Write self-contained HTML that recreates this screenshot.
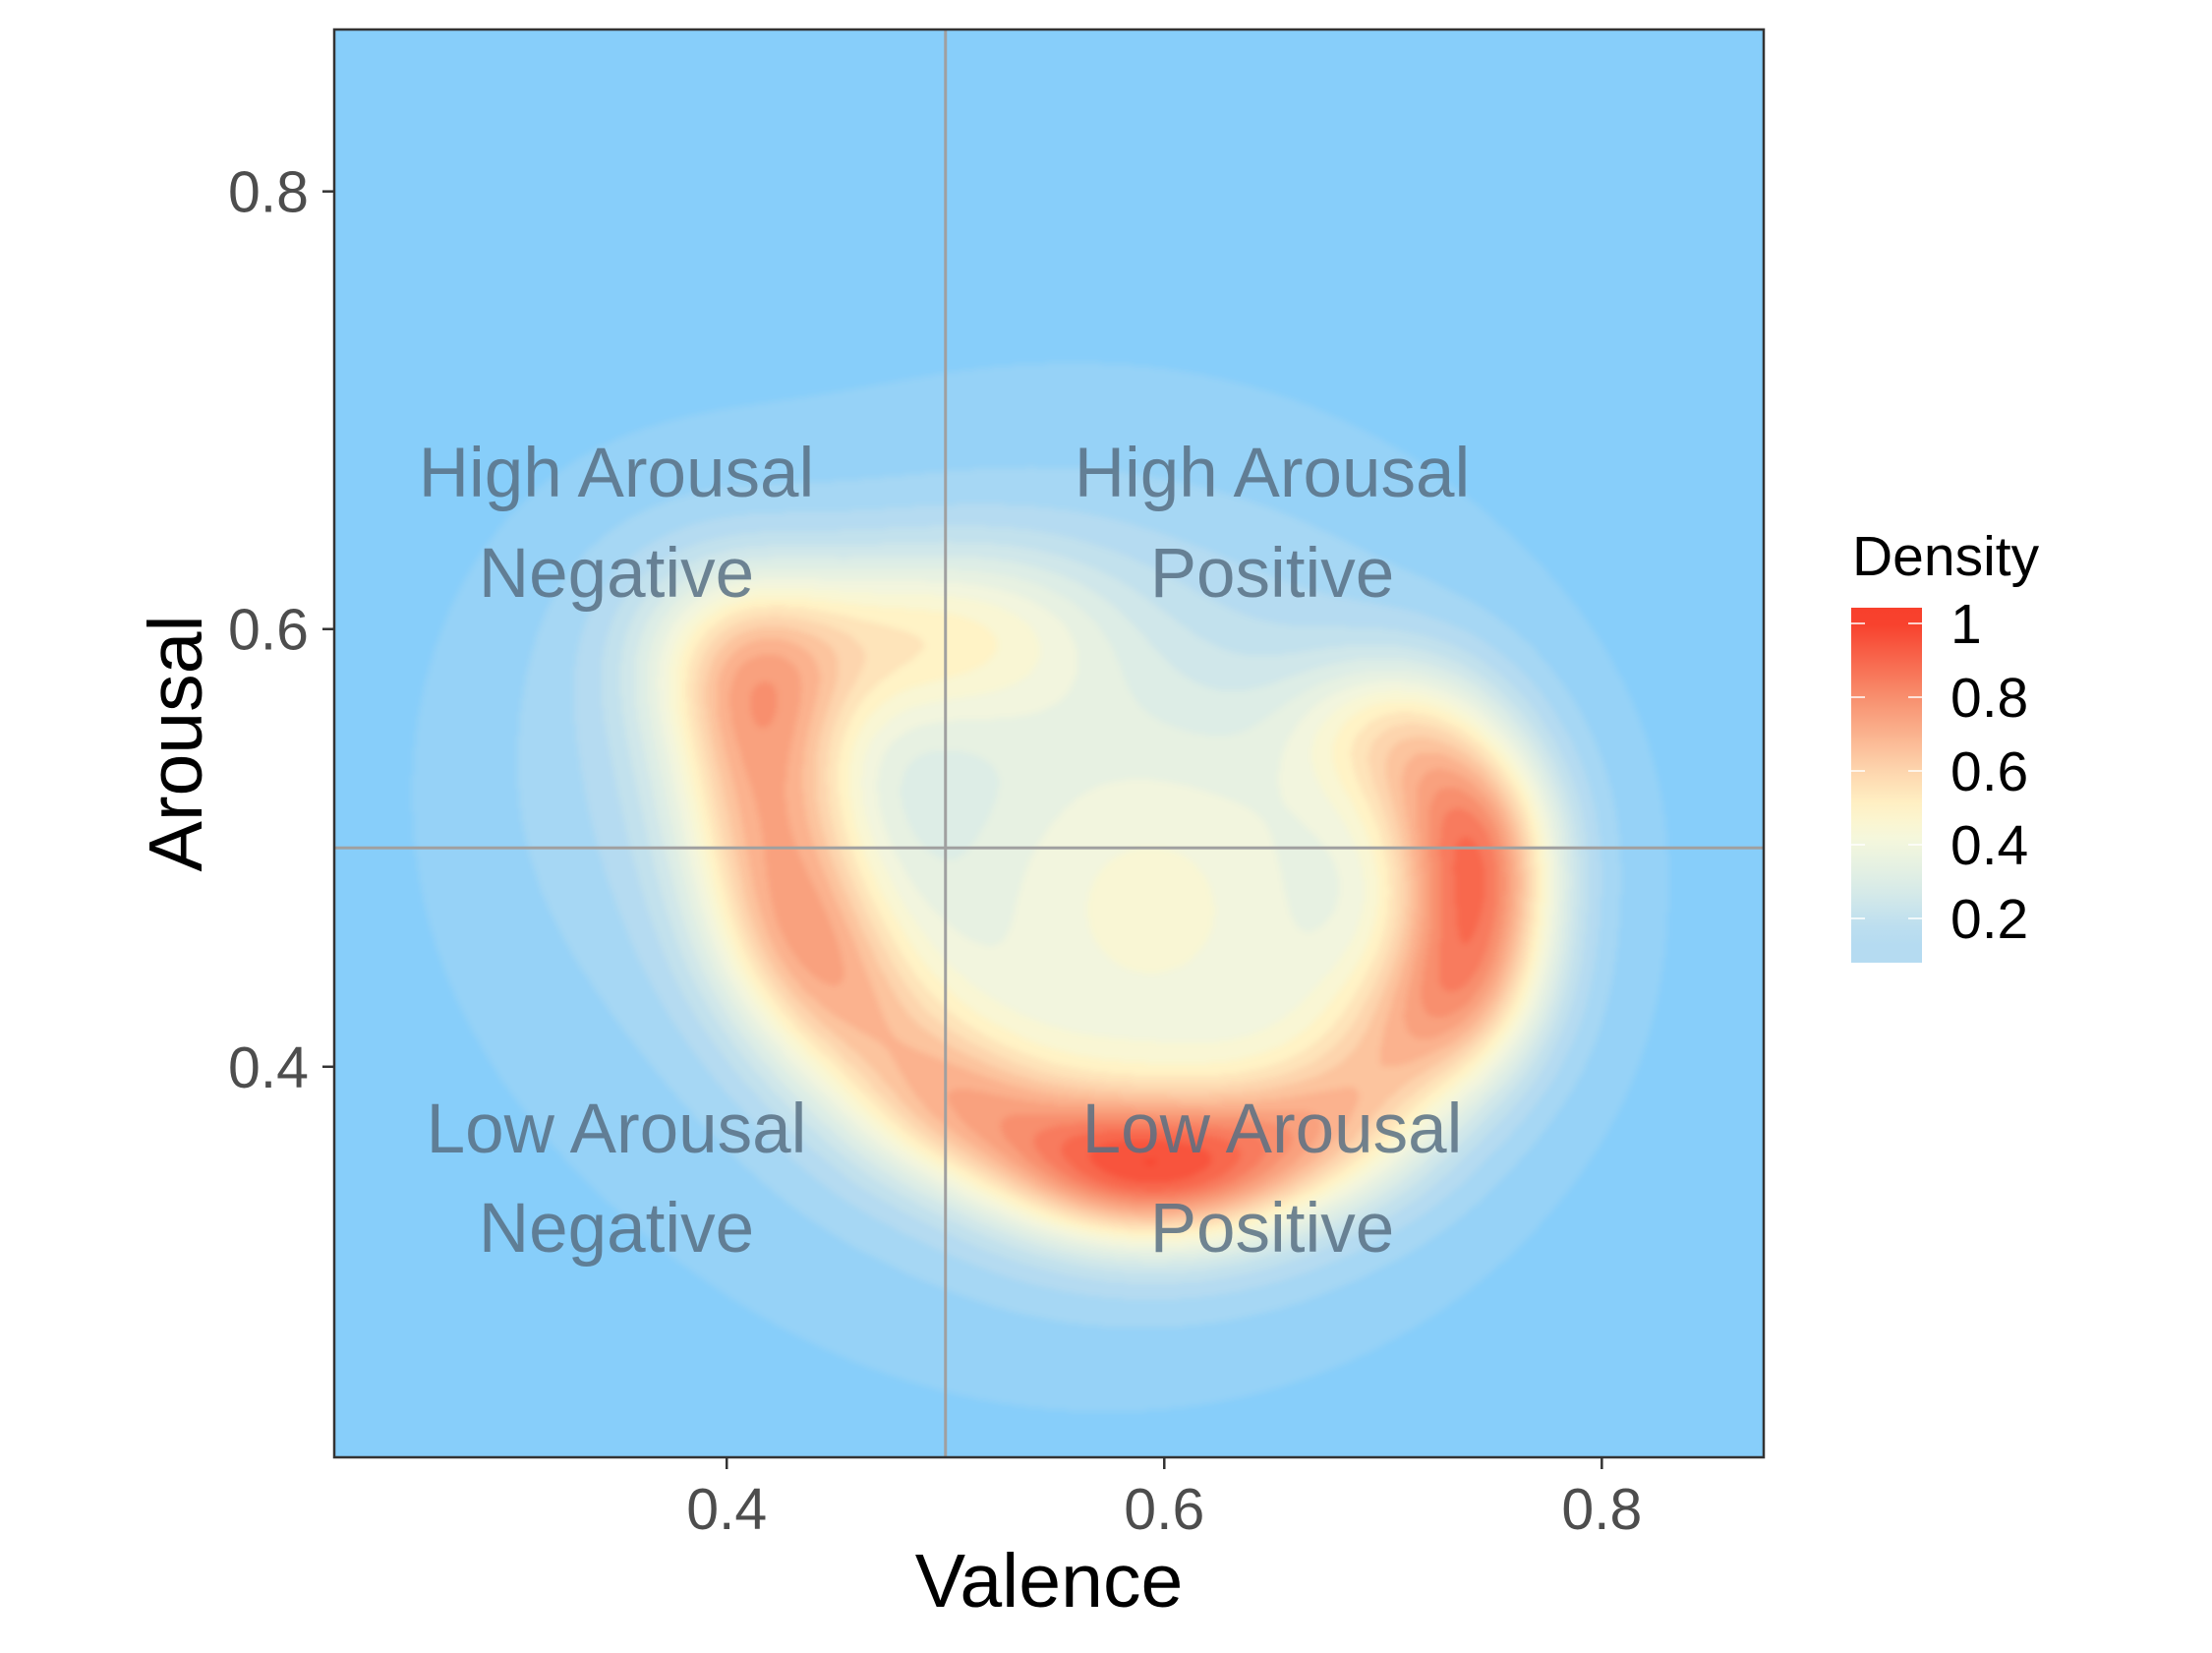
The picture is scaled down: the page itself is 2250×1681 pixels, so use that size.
<!DOCTYPE html>
<html><head><meta charset="utf-8"><style>
body{margin:0;background:#fff;}
#wrap{position:relative;width:2250px;height:1681px;overflow:hidden;font-family:"Liberation Sans",sans-serif;}
canvas{position:absolute;left:340px;top:30px;}
svg{position:absolute;left:0;top:0;}
</style></head><body>
<div id="wrap">
<canvas id="cv" width="1454" height="1452"></canvas>
<svg id="sv" width="2250" height="1681"></svg>
</div>
<script>
// Kernel components of the 2D density (data units)
const kernelX = [0.40, 0.41, 0.415,0.42, 0.43, 0.45, 0.48, 0.51, 0.55, 0.59, 0.63, 0.67, 0.70, 0.73, 0.745,0.74, 0.72, 0.46, 0.52, 0.60, 0.54, 0.36, 0.69];
const kernelY = [0.60, 0.575,0.54, 0.505,0.465,0.43, 0.40, 0.38, 0.36, 0.352,0.355,0.37, 0.40, 0.43, 0.47, 0.51, 0.545,0.595,0.60, 0.47, 0.49, 0.55, 0.555];
const kernelW = [0.20, 0.32, 0.30, 0.32, 0.40, 0.33, 0.28, 0.32, 0.42, 0.48, 0.42, 0.33, 0.30, 0.40, 0.52, 0.42, 0.30, 0.26, 0.27, 0.38, 0.17, 0.08, 0.18];
const kernelSX= [0.035,0.032,0.03, 0.03, 0.03, 0.03, 0.03, 0.03, 0.032,0.032,0.032,0.032,0.03, 0.028,0.026,0.028,0.03, 0.04, 0.045,0.09, 0.17, 0.06, 0.03];
const kernelSY= [0.03, 0.03, 0.03, 0.03, 0.03, 0.03, 0.03, 0.025,0.025,0.025,0.025,0.025,0.03, 0.03, 0.035,0.03, 0.03, 0.03, 0.03, 0.09, 0.15, 0.08, 0.025];
const xTicks = [0.4, 0.6, 0.8];
const yTicks = [0.4, 0.6, 0.8];
const legendTicks = [1, 0.8, 0.6, 0.4, 0.2];
const colorStops = [0.0,'#87CEFA',0.15,'#B5DBF1',0.3,'#DDEDE6',0.42,'#F6F7DC',0.5,'#FFF3C6',0.6,'#FDD5AE',0.8,'#F88F6E',1.0,'#F8402C'];

const X0=340,X1=1794,Y0=30,Y1=1482;
const xmin=0.2206,xmax=0.874,ymin=0.2215,ymax=0.874;
const sx=v=>X0+(v-xmin)/(xmax-xmin)*(X1-X0);
const sy=v=>Y1-(v-ymin)/(ymax-ymin)*(Y1-Y0);
function hex(h){return [parseInt(h.slice(1,3),16),parseInt(h.slice(3,5),16),parseInt(h.slice(5,7),16)];}
function col(t){
  t=Math.max(0,Math.min(1,t));
  for(let i=0;i<colorStops.length-2;i+=2){
    const a=colorStops[i],b=colorStops[i+2];
    if(t<=b){const f=(t-a)/(b-a),c1=hex(colorStops[i+1]),c2=hex(colorStops[i+3]);
      return c1.map((c,k)=>Math.round(c+(c2[k]-c)*f));}
  }
  return hex(colorStops[colorStops.length-1]);
}
function dens(x,y){let s=0;for(let i=0;i<kernelX.length;i++){const dx=(x-kernelX[i])/kernelSX[i],dy=(y-kernelY[i])/kernelSY[i];s+=kernelW[i]*Math.exp(-0.5*(dx*dx+dy*dy));}return s;}
let mx=0;for(let i=0;i<=150;i++)for(let j=0;j<=150;j++){const d=dens(xmin+(xmax-xmin)*i/150,ymin+(ymax-ymin)*j/150);if(d>mx)mx=d;}
const cv=document.getElementById('cv'),ctx=cv.getContext('2d');
const W=cv.width,H=cv.height,img=ctx.createImageData(W,H);
const step=2;
for(let py=0;py<H;py+=step){for(let px=0;px<W;px+=step){
  const x=xmin+(px/W)*(xmax-xmin),y=ymax-(py/H)*(ymax-ymin);
  let d=dens(x,y)/mx;
  d=d<0.05?0:Math.floor(d*20)/20;
  const c=col(d);
  for(let a=0;a<step;a++)for(let b=0;b<step;b++){const k=((py+a)*W+px+b)*4;if(px+b<W&&py+a<H){img.data[k]=c[0];img.data[k+1]=c[1];img.data[k+2]=c[2];img.data[k+3]=255;}}
}}
ctx.putImageData(img,0,0);
ctx.filter='blur(3px)';ctx.drawImage(cv,0,0);

const NS='http://www.w3.org/2000/svg',sv=document.getElementById('sv');
function mk(t,a,txt){const e=document.createElementNS(NS,t);for(const k in a)e.setAttribute(k,a[k]);if(txt!==undefined)e.textContent=txt;sv.appendChild(e);return e;}
let e;
e=mk('line',{x1:sx(0.5),x2:sx(0.5),y1:Y0,y2:Y1,stroke:'#a0a0a0','stroke-width':3});


e=mk('line',{x1:X0,x2:X1,y1:sy(0.5),y2:sy(0.5),stroke:'#a0a0a0','stroke-width':3});


e=mk('rect',{x:X0,y:Y0,width:X1-X0,height:Y1-Y0,fill:'none',stroke:'#333','stroke-width':2.5});


xTicks.forEach(v=>{
  e=mk('line',{x1:sx(v),x2:sx(v),y1:Y1,y2:Y1+12,stroke:'#333','stroke-width':2.5});
  
  
  e=mk('text',{x:sx(v),y:1555,'text-anchor':'middle','font-size':59,fill:'#4d4d4d'},String(v));
  
  
});
yTicks.forEach(v=>{
  e=mk('line',{x1:X0-12,x2:X0,y1:sy(v),y2:sy(v),stroke:'#333','stroke-width':2.5});
  
  
  e=mk('text',{x:X0-26,y:sy(v)+21,'text-anchor':'end','font-size':59,fill:'#4d4d4d'},String(v));
  
  
});
e=mk('text',{x:1067,y:1634,'text-anchor':'middle','font-size':77,fill:'#000'},'Valence');


e=mk('text',{x:0,y:0,'text-anchor':'middle','font-size':77,fill:'#000',transform:'translate(205,756) rotate(-90)'},'Arousal');


const quads=[[627,'High Arousal','Negative',481,583],[1294,'High Arousal','Positive',481,583],[627,'Low Arousal','Negative',1148,1249],[1294,'Low Arousal','Positive',1148,1249]];
quads.forEach(q=>{
  e=mk('text',{x:q[0],y:q[3]+24,'text-anchor':'middle','font-size':71,fill:'#587084','fill-opacity':0.85},q[1]);
  
  
  e=mk('text',{x:q[0],y:q[4]+24,'text-anchor':'middle','font-size':71,fill:'#587084','fill-opacity':0.85},q[2]);
  
  
});
const defs=mk('defs',{});
const g=document.createElementNS(NS,'linearGradient');g.setAttribute('id','lg');g.setAttribute('x1',0);g.setAttribute('x2',0);g.setAttribute('y1',1);g.setAttribute('y2',0);defs.appendChild(g);
const lv=v=>634+(1-v)*375;
const vBot=1-(979-634)/375, vTop=1+(634-618)/375;
for(let i=0;i<=20;i++){const v=vBot+(vTop-vBot)*i/20;const c=col(Math.max(0.15,v));const s=document.createElementNS(NS,'stop');s.setAttribute('offset',i/20);s.setAttribute('stop-color','rgb('+c.join(',')+')');g.appendChild(s);}
e=mk('rect',{x:1883,y:618,width:72,height:361,fill:'url(#lg)'});


e=mk('text',{x:1884,y:585,'font-size':57,fill:'#000'},'Density');


legendTicks.forEach(v=>{
  e=mk('line',{x1:1883,x2:1897,y1:lv(v),y2:lv(v),stroke:'#fff','stroke-width':1.5});
  
  
  e=mk('line',{x1:1941,x2:1955,y1:lv(v),y2:lv(v),stroke:'#fff','stroke-width':1.5});
  
  
  e=mk('text',{x:1984,y:lv(v)+20,'font-size':57,fill:'#000'},String(v));
  
  
});
</script>
</body></html>
